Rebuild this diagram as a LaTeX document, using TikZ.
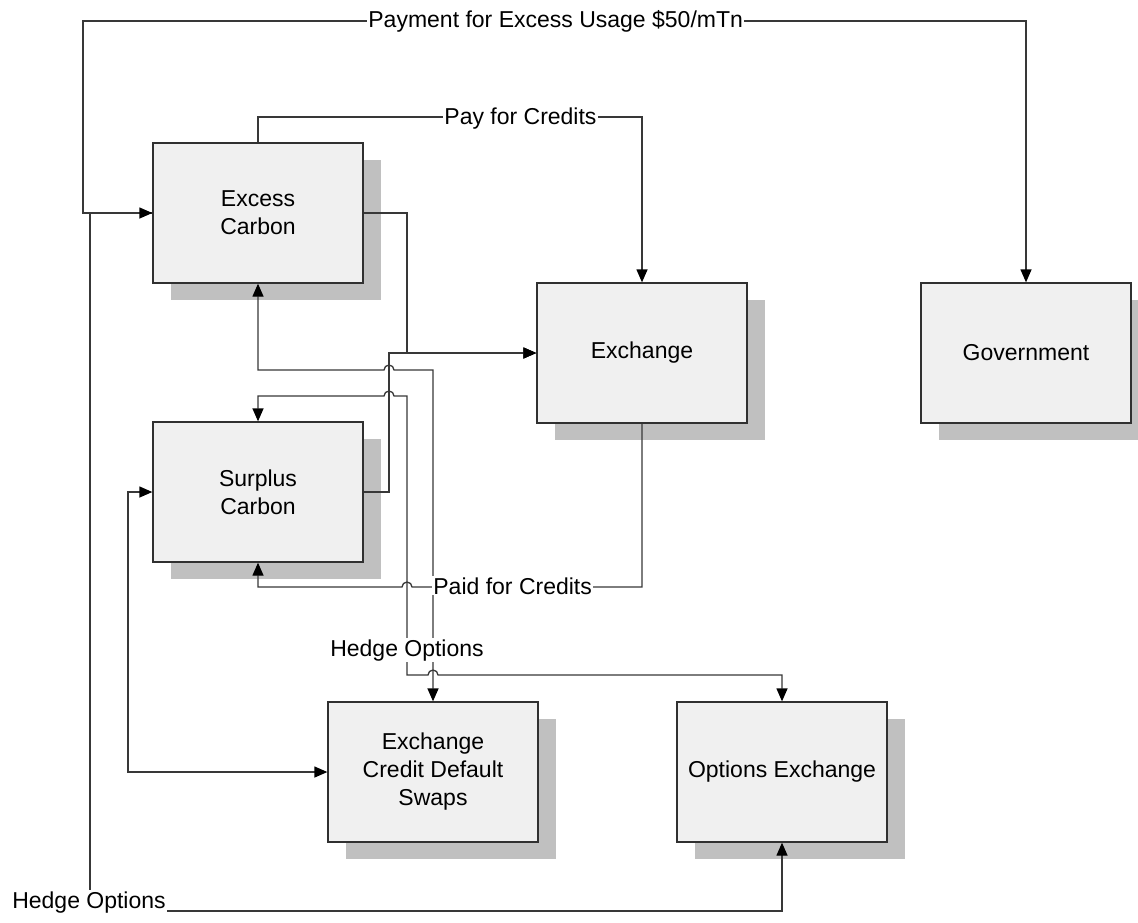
\documentclass[tikz,border=0pt]{standalone}
\usepackage{fontspec}
\setmainfont{Liberation Sans}
\usepackage{tikz}
\usetikzlibrary{arrows.meta,calc,positioning,shadows}
\definecolor{BoxFill}{HTML}{F0F0F0}
\definecolor{BoxShade}{HTML}{C0C0C0}
\definecolor{BoxEdge}{HTML}{303030}
\definecolor{WireInk}{HTML}{383838}
\tikzset{
  block/.style={rectangle, draw=BoxEdge, line width=0.65pt, fill=BoxFill,
             minimum width=105pt, minimum height=70pt, inner sep=0pt, align=center,
             font=\fontsize{11.5}{14}\selectfont,
             drop shadow={shadow xshift=9pt, shadow yshift=-8.5pt, fill=BoxShade, opacity=1, draw=none}},
  wire/.style={line width=0.65pt, draw=WireInk},
  tag/.style={fill=white, inner sep=0.5pt, font=\fontsize{11.5}{14}\selectfont},
}

\begin{document}
\begin{tikzpicture}[x=0.5pt, y=-0.5pt,
  >={Triangle[length=6.5pt,width=5.5pt,color=black]},
]
\useasboundingbox (0,0) rectangle (1138,922);
% ---------- boxes
\node[block] (excess) at (258,213) {Excess\\Carbon};
\node[block] (exch) at (642,353) {Exchange};
\node[block] (gov) at (1026,353) {Government};
\node[block] (surplus) at (258,492) {Surplus\\Carbon};
\node[block] (cds) at (433,772) {Exchange\\Credit Default\\Swaps};
\node[block] (opt) at (782,772) {Options Exchange};
% ---------- routing points
\coordinate (payTL) at (83,21);
\coordinate (payC) at (0,117);
\coordinate (hedgeBL) at (90,911);
\coordinate (c0) at (128,0);
\coordinate (c1) at (389,0);
\coordinate (c2) at (407,0);
\coordinate (rowC) at (0,370);
\coordinate (rowD) at (0,396);
\coordinate (rowE) at (0,587);
\coordinate (rowH) at (0,675);
% ---------- payment to government
\draw[wire,->] (excess.west) -- (excess.west -| payTL) -- (payTL) -| (gov.north);
\node[tag, anchor=base west] (payLbl) at (367,27) {Payment for Excess Usage \$50/mTn};
% ---------- pay for credits
\draw[wire,->] (excess.north) |- (exch.north |- payC) -- (exch.north);
\node[tag, anchor=base west] (payCLbl) at (443,124) {Pay for Credits};
% ---------- hedge options, outer loop
\draw[wire,<->] (excess.west) -- (excess.west -| hedgeBL) -- (hedgeBL) -| (opt.south);
\node[tag, anchor=base] (hedgeLbl) at (89,908) {Hedge Options};
% ---------- into the exchange
\draw[wire,->] (excess.east) -| (c2 |- exch.west) -- (exch.west);
\draw[wire,->] (surplus.east) -| (c1 |- exch.west) -- (exch.west);
% ---------- credit default swaps and options
\draw[wire,<->] (excess.south) |- ($(c1 |- rowC)+(-5,0)$) arc[start angle=180, end angle=0, radius=2.5pt]
  -- (cds.north |- rowC) -- (cds.north);
\draw[wire,<->] (surplus.north) |- ($(c1 |- rowD)+(-5,0)$) arc[start angle=180, end angle=0, radius=2.5pt]
  -- (c2 |- rowD) -- (c2 |- rowH) -- ($(cds.north |- rowH)+(-5,0)$) arc[start angle=180, end angle=0, radius=2.5pt]
  -| (opt.north);
\node[tag, anchor=base] (hedgeMidLbl) at (407,656) {Hedge Options};
% ---------- paid for credits
\draw[wire,->] (exch.south) -- (exch.south |- rowE) -- ($(c2 |- rowE)+(5,0)$) arc[start angle=0, end angle=180, radius=2.5pt]
  -| (surplus.south);
\node[tag, anchor=base west] (paidLbl) at (432,594) {Paid for Credits};
% ---------- surplus to swaps
\draw[wire,<->] (surplus.west) -- (surplus.west -| c0) |- (cds.west);
\end{tikzpicture}
\end{document}
